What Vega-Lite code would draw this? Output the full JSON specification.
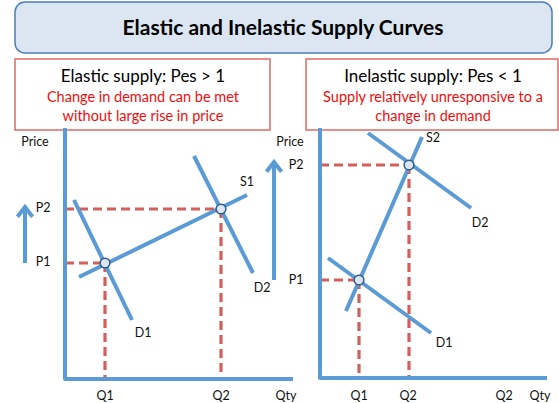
{
  "$schema": "https://vega.github.io/schema/vega-lite/v6.json",
  "width": 559,
  "height": 403,
  "autosize": {"type": "fit", "contains": "padding"},
  "padding": 0,
  "background": "white",
  "config": {"view": {"stroke": null}},
  "datasets": {
    "boxes": [
      {"kind": "title", "x": 15, "x2": 552, "y": 2, "y2": 53},
      {"kind": "header", "x": 15, "x2": 270, "y": 59, "y2": 130},
      {"kind": "header", "x": 306, "x2": 558, "y": 59, "y2": 130}
    ],
    "axes": [
      {"id": "L", "ord": 1, "x": 65, "y": 128},
      {"id": "L", "ord": 2, "x": 65, "y": 379},
      {"id": "L", "ord": 3, "x": 293, "y": 379},
      {"id": "R", "ord": 1, "x": 320, "y": 128},
      {"id": "R", "ord": 2, "x": 320, "y": 378},
      {"id": "R", "ord": 3, "x": 547, "y": 378}
    ],
    "curves": [
      {"name": "S1", "x": 79, "y": 277, "x2": 247, "y2": 195},
      {"name": "D1", "x": 74, "y": 200, "x2": 132, "y2": 320},
      {"name": "D2", "x": 194, "y": 156, "x2": 253, "y2": 273},
      {"name": "S2", "x": 346, "y": 311, "x2": 422, "y2": 137},
      {"name": "D1r", "x": 328, "y": 258, "x2": 431, "y2": 333},
      {"name": "D2r", "x": 368, "y": 133, "x2": 471, "y2": 208}
    ],
    "dashes": [
      {"x": 65, "y": 263, "x2": 105, "y2": 263},
      {"x": 105, "y": 263, "x2": 105, "y2": 379},
      {"x": 65, "y": 209, "x2": 221, "y2": 209},
      {"x": 221, "y": 209, "x2": 221, "y2": 379},
      {"x": 320, "y": 165, "x2": 409, "y2": 165},
      {"x": 409, "y": 165, "x2": 409, "y2": 378},
      {"x": 320, "y": 280, "x2": 359, "y2": 280},
      {"x": 359, "y": 280, "x2": 359, "y2": 378}
    ],
    "arrows": [
      {"x": 25, "y": 263, "y2": 209, "tip": 207},
      {"x": 274, "y": 280, "y2": 164, "tip": 162}
    ],
    "points": [
      {"x": 105, "y": 263},
      {"x": 221, "y": 209},
      {"x": 359, "y": 280},
      {"x": 409, "y": 165}
    ],
    "texts": [
      {"kind": "title", "x": 283, "y": 29, "label": "Elastic and Inelastic Supply Curves"},
      {"kind": "head", "x": 143, "y": 77, "label": "Elastic supply: Pes > 1"},
      {"kind": "sub", "x": 143, "y": 98, "label": "Change in demand can be met"},
      {"kind": "sub", "x": 143, "y": 117, "label": "without large rise in price"},
      {"kind": "head", "x": 433, "y": 77, "label": "Inelastic supply: Pes < 1"},
      {"kind": "sub", "x": 433, "y": 98, "label": "Supply relatively unresponsive to a"},
      {"kind": "sub", "x": 433, "y": 117, "label": "change in demand"},
      {"kind": "lab", "x": 35, "y": 142, "label": "Price"},
      {"kind": "lab", "x": 43, "y": 208, "label": "P2"},
      {"kind": "lab", "x": 43, "y": 262, "label": "P1"},
      {"kind": "lab", "x": 247, "y": 182, "label": "S1"},
      {"kind": "lab", "x": 143, "y": 333, "label": "D1"},
      {"kind": "lab", "x": 262, "y": 288, "label": "D2"},
      {"kind": "lab", "x": 105, "y": 396, "label": "Q1"},
      {"kind": "lab", "x": 221, "y": 396, "label": "Q2"},
      {"kind": "lab", "x": 286, "y": 396, "label": "Qty"},
      {"kind": "lab", "x": 290, "y": 142, "label": "Price"},
      {"kind": "lab", "x": 296, "y": 165, "label": "P2"},
      {"kind": "lab", "x": 296, "y": 280, "label": "P1"},
      {"kind": "lab", "x": 433, "y": 138, "label": "S2"},
      {"kind": "lab", "x": 480, "y": 223, "label": "D2"},
      {"kind": "lab", "x": 444, "y": 343, "label": "D1"},
      {"kind": "lab", "x": 359, "y": 396, "label": "Q1"},
      {"kind": "lab", "x": 408, "y": 396, "label": "Q2"},
      {"kind": "lab", "x": 504, "y": 396, "label": "Q2"},
      {"kind": "lab", "x": 540, "y": 396, "label": "Qty"}
    ]
  },
  "layer": [
    {
      "data": {"name": "boxes"},
      "transform": [{"filter": "datum.kind === 'title'"}],
      "mark": {"type": "rect", "cornerRadius": 10, "fill": "#dce6f2", "stroke": "#4a7ebb", "strokeWidth": 1.5},
      "encoding": {
        "x": {"field": "x", "type": "quantitative", "axis": null, "scale": {"domain": [0, 559], "nice": false, "zero": false}},
        "x2": {"field": "x2"},
        "y": {"field": "y", "type": "quantitative", "axis": null, "scale": {"domain": [0, 403], "reverse": true, "nice": false, "zero": false}},
        "y2": {"field": "y2"}
      }
    },
    {
      "data": {"name": "boxes"},
      "transform": [{"filter": "datum.kind === 'header'"}],
      "mark": {"type": "rect", "fill": "white", "stroke": "#df6a66", "strokeWidth": 1.5},
      "encoding": {
        "x": {"field": "x", "type": "quantitative", "axis": null},
        "x2": {"field": "x2"},
        "y": {"field": "y", "type": "quantitative", "axis": null},
        "y2": {"field": "y2"}
      }
    },
    {
      "data": {"name": "dashes"},
      "mark": {"type": "rule", "color": "#d35f5a", "strokeWidth": 3.2, "strokeDash": [9, 5]},
      "encoding": {
        "x": {"field": "x", "type": "quantitative", "axis": null},
        "x2": {"field": "x2"},
        "y": {"field": "y", "type": "quantitative", "axis": null},
        "y2": {"field": "y2"}
      }
    },
    {
      "data": {"name": "axes"},
      "mark": {"type": "line", "color": "#5b9bd5", "strokeWidth": 4, "strokeJoin": "round"},
      "encoding": {
        "x": {"field": "x", "type": "quantitative", "axis": null},
        "y": {"field": "y", "type": "quantitative", "axis": null},
        "detail": {"field": "id"},
        "order": {"field": "ord", "type": "quantitative"}
      }
    },
    {
      "data": {"name": "curves"},
      "mark": {"type": "rule", "color": "#5b9bd5", "strokeWidth": 4},
      "encoding": {
        "x": {"field": "x", "type": "quantitative", "axis": null},
        "x2": {"field": "x2"},
        "y": {"field": "y", "type": "quantitative", "axis": null},
        "y2": {"field": "y2"}
      }
    },
    {
      "data": {"name": "arrows"},
      "mark": {"type": "rule", "color": "#5b9bd5", "strokeWidth": 4},
      "encoding": {
        "x": {"field": "x", "type": "quantitative", "axis": null},
        "y": {"field": "y", "type": "quantitative", "axis": null},
        "y2": {"field": "y2"}
      }
    },
    {
      "data": {"name": "arrows"},
      "mark": {"type": "point", "shape": "M-1,1.3L0,0L1,1.3", "filled": false, "stroke": "#5b9bd5", "strokeWidth": 4, "size": 225, "opacity": 1, "strokeJoin": "miter"},
      "encoding": {
        "x": {"field": "x", "type": "quantitative", "axis": null},
        "y": {"field": "tip", "type": "quantitative", "axis": null}
      }
    },
    {
      "data": {"name": "points"},
      "mark": {"type": "point", "shape": "circle", "filled": true, "fill": "#dce6f2", "stroke": "#2f5d8c", "strokeWidth": 1.5, "size": 95, "opacity": 1},
      "encoding": {
        "x": {"field": "x", "type": "quantitative", "axis": null},
        "y": {"field": "y", "type": "quantitative", "axis": null}
      }
    },
    {
      "data": {"name": "texts"},
      "transform": [{"filter": "datum.kind === 'title'"}],
      "mark": {"type": "text", "font": "Lato", "fontWeight": "bold", "fontSize": 21, "color": "#000000", "align": "center", "baseline": "middle"},
      "encoding": {
        "x": {"field": "x", "type": "quantitative", "axis": null},
        "y": {"field": "y", "type": "quantitative", "axis": null},
        "text": {"field": "label"}
      }
    },
    {
      "data": {"name": "texts"},
      "transform": [{"filter": "datum.kind === 'head'"}],
      "mark": {"type": "text", "font": "Lato", "fontSize": 17, "color": "#000000", "align": "center", "baseline": "middle"},
      "encoding": {
        "x": {"field": "x", "type": "quantitative", "axis": null},
        "y": {"field": "y", "type": "quantitative", "axis": null},
        "text": {"field": "label"}
      }
    },
    {
      "data": {"name": "texts"},
      "transform": [{"filter": "datum.kind === 'sub'"}],
      "mark": {"type": "text", "font": "Lato", "fontSize": 14.5, "color": "#f20d0d", "align": "center", "baseline": "middle"},
      "encoding": {
        "x": {"field": "x", "type": "quantitative", "axis": null},
        "y": {"field": "y", "type": "quantitative", "axis": null},
        "text": {"field": "label"}
      }
    },
    {
      "data": {"name": "texts"},
      "transform": [{"filter": "datum.kind === 'lab'"}],
      "mark": {"type": "text", "font": "Lato", "fontSize": 12.5, "color": "#111111", "align": "center", "baseline": "middle"},
      "encoding": {
        "x": {"field": "x", "type": "quantitative", "axis": null},
        "y": {"field": "y", "type": "quantitative", "axis": null},
        "text": {"field": "label"}
      }
    }
  ]
}
